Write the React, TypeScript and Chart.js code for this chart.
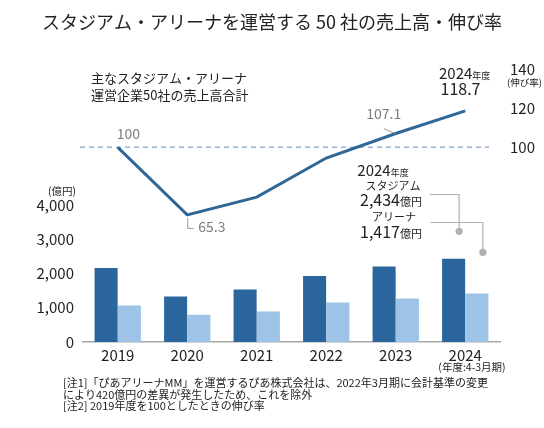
import React, { useEffect, useRef } from "react";
import { Chart, registerables } from "chart.js";

Chart.register(...registerables);

// ---- data ----
const years = ["2019", "2020", "2021", "2022", "2023", "2024"];
const stadiumSales = [2163, 1329, 1532, 1930, 2202, 2434]; // 億円
const arenaSales = [1067, 795, 892, 1154, 1271, 1417]; // 億円
const growthIndex = [100, 65.3, 74.4, 94.5, 107.1, 118.7]; // 2019 = 100
const salesTicks = [0, 1000, 2000, 3000, 4000];
const growthTicks = [100, 120, 140];
const baselineValue = 100;

const FAMILY = '"Noto Sans CJK JP", "Noto Sans", sans-serif';
const font = (px: number) => `${px}px ${FAMILY}`;

const DARK = "#2a659b";
const LIGHT = "#9dc3e6";
const LINE = "#2f6797";
const TEXT = "#222222";
const GRAY_TEXT = "#7d7d7d";
const LEADER = "#b0b0b0";

function text(ctx: any, s: string, x: number, y: number, px: number, color: string, align: string = "left") {
  ctx.font = font(px);
  ctx.fillStyle = color;
  ctx.textAlign = align;
  ctx.textBaseline = "middle";
  ctx.fillText(s, x, y);
}

// mixed-size runs on a shared alphabetic baseline
function runs(ctx: any, parts: [string, number][], x: number, baseline: number, color: string, align: string = "left") {
  ctx.textBaseline = "alphabetic";
  ctx.textAlign = "left";
  ctx.fillStyle = color;
  let total = 0;
  for (const [s, px] of parts) {
    ctx.font = font(px);
    total += ctx.measureText(s).width;
  }
  let cx = align === "center" ? x - total / 2 : align === "right" ? x - total : x;
  for (const [s, px] of parts) {
    ctx.font = font(px);
    ctx.fillText(s, cx, baseline);
    cx += ctx.measureText(s).width;
  }
}

const annotationPlugin = {
  id: "annotationPlugin",
  beforeDatasetsDraw(chart: any) {
    const { ctx, chartArea, scales } = chart;
    const y = scales.y2.getPixelForValue(baselineValue);
    ctx.save();
    ctx.strokeStyle = "#9ab6d3";
    ctx.lineWidth = 1.5;
    ctx.setLineDash([5, 4]);
    ctx.beginPath();
    ctx.moveTo(chartArea.left - 3, y);
    ctx.lineTo(chartArea.right - 11, y);
    ctx.stroke();
    ctx.restore();
  },
  afterDraw(chart: any) {
    const { ctx, scales } = chart;
    ctx.save();

    // title
    text(ctx, "スタジアム・アリーナを運営する 50 社の売上高・伸び率", 272, 22, 18, TEXT, "center");

    // series caption
    text(ctx, "主なスタジアム・アリーナ", 91, 78, 13, TEXT);
    text(ctx, "運営企業50社の売上高合計", 91, 95, 13, TEXT);

    // axis unit labels
    text(ctx, "(億円)", 76, 191, 10.5, TEXT, "right");
    text(ctx, "(伸び率)", 507, 82, 9.5, TEXT);
    text(ctx, "(年度:4-3月期)", 472, 367, 10.5, TEXT, "center");

    // line value labels
    const linePts = chart.getDatasetMeta(2).data;
    const p0 = linePts[0];
    text(ctx, String(growthIndex[0]), p0.x - 1, p0.y - 14, 14, GRAY_TEXT);

    const p1 = linePts[1];
    ctx.strokeStyle = "#9a9a9a";
    ctx.lineWidth = 1;
    ctx.beginPath();
    ctx.moveTo(p1.x + 0.5, p1.y + 3);
    ctx.lineTo(p1.x + 0.5, p1.y + 13.5);
    ctx.lineTo(p1.x + 6.5, p1.y + 13.5);
    ctx.stroke();
    text(ctx, growthIndex[1].toFixed(1), p1.x + 11, p1.y + 11.5, 14, GRAY_TEXT);

    const p4 = linePts[4];
    ctx.beginPath();
    ctx.moveTo(p4.x - 12, p4.y - 5);
    ctx.lineTo(p4.x - 1, p4.y);
    ctx.stroke();
    text(ctx, growthIndex[4].toFixed(1), p4.x - 12, p4.y - 20, 14, GRAY_TEXT, "center");

    runs(ctx, [["2024", 15], ["年度", 9]], 439, 78.8, TEXT);
    text(ctx, growthIndex[5].toFixed(1), 460.5, 88.5, 16, TEXT, "center");

    // 2024 sales callout
    runs(ctx, [["2024", 15], ["年度", 9]], 383, 175.5, TEXT, "center");
    text(ctx, "スタジアム", 393, 186, 11, TEXT, "center");
    runs(ctx, [[stadiumSales[5].toLocaleString("en-US"), 16], ["億円", 11]], 391, 205.8, TEXT, "center");
    text(ctx, "アリーナ", 394, 216.7, 11, TEXT, "center");
    runs(ctx, [[arenaSales[5].toLocaleString("en-US"), 16], ["億円", 11]], 391, 237.5, TEXT, "center");

    const sBar = chart.getDatasetMeta(0).data[5];
    const aBar = chart.getDatasetMeta(1).data[5];
    const sx = sBar.x + 5.5;
    const sy = scales.y.getPixelForValue(stadiumSales[5] + 800);
    const ax = aBar.x + 6;
    const ay = scales.y.getPixelForValue(arenaSales[5] + 1200);
    ctx.strokeStyle = LEADER;
    ctx.lineWidth = 1.2;
    ctx.beginPath();
    ctx.moveTo(430, 194.5);
    ctx.lineTo(sx, 194.5);
    ctx.lineTo(sx, sy);
    ctx.moveTo(430.5, 222.5);
    ctx.lineTo(ax, 222.5);
    ctx.lineTo(ax, ay);
    ctx.stroke();
    ctx.fillStyle = LEADER;
    ctx.beginPath();
    ctx.arc(sx, sy, 3.6, 0, Math.PI * 2);
    ctx.fill();
    ctx.beginPath();
    ctx.arc(ax, ay, 3.6, 0, Math.PI * 2);
    ctx.fill();

    // notes
    text(ctx, "[注1]「ぴあアリーナMM」を運営するぴあ株式会社は、2022年3月期に会計基準の変更", 63, 383, 11, TEXT);
    text(ctx, "により420億円の差異が発生したため、これを除外", 63, 394.5, 11, TEXT);
    text(ctx, "[注2] 2019年度を100としたときの伸び率", 63, 406, 11, TEXT);

    ctx.restore();
  },
};

export default function App() {
  const ref = useRef<HTMLCanvasElement | null>(null);

  useEffect(() => {
    if (!ref.current) return;
    const tickFont = { family: FAMILY, size: 15 };
    const chart = new Chart(ref.current, {
      type: "bar",
      data: {
        labels: years,
        datasets: [
          {
            type: "bar",
            label: "スタジアム",
            data: stadiumSales,
            backgroundColor: DARK,
            yAxisID: "y",
            order: 2,
            categoryPercentage: 0.67,
            barPercentage: 0.99,
          },
          {
            type: "bar",
            label: "アリーナ",
            data: arenaSales,
            backgroundColor: LIGHT,
            yAxisID: "y",
            order: 2,
            categoryPercentage: 0.67,
            barPercentage: 0.99,
          },
          {
            type: "line",
            label: "伸び率",
            data: growthIndex,
            borderColor: LINE,
            borderWidth: 3,
            pointRadius: 0,
            tension: 0,
            fill: false,
            yAxisID: "y2",
            order: 0,
          },
        ],
      } as any,
      options: {
        responsive: false,
        animation: false,
        devicePixelRatio: 1,
        layout: { padding: { top: 50, left: 0, right: 0, bottom: 0 } },
        plugins: {
          legend: { display: false },
          tooltip: { enabled: false },
          title: { display: false },
        },
        scales: {
          x: {
            type: "category",
            grid: { display: false, drawTicks: false },
            border: { color: "#a8a8a8", width: 1.5 },
            ticks: { font: tickFont, color: TEXT, padding: 4, maxRotation: 0 },
            afterFit: (s: any) => {
              s.height = 86;
            },
          },
          y: {
            position: "left",
            min: 0,
            max: 8530,
            grid: { display: false, drawTicks: false },
            border: { display: false },
            ticks: {
              font: tickFont,
              color: TEXT,
              padding: 9,
              callback: (v: any) => Number(v).toLocaleString("en-US"),
            },
            afterBuildTicks: (s: any) => {
              s.ticks = salesTicks.map((v) => ({ value: v }));
            },
            afterFit: (s: any) => {
              s.width = 83;
            },
          },
          y2: {
            position: "right",
            min: 0,
            max: 150,
            grid: { display: false, drawTicks: false },
            border: { display: false },
            ticks: { font: tickFont, color: TEXT, padding: 10 },
            afterBuildTicks: (s: any) => {
              s.ticks = growthTicks.map((v) => ({ value: v }));
            },
            afterFit: (s: any) => {
              s.width = 44;
            },
          },
        },
      } as any,
      plugins: [annotationPlugin],
    });
    return () => chart.destroy();
  }, []);

  return (
    <div style={{ position: "absolute", left: 0, top: 0, width: 544, height: 428, background: "#ffffff" }}>
      <canvas ref={ref} width={544} height={428} style={{ display: "block" }} />
    </div>
  );
}
